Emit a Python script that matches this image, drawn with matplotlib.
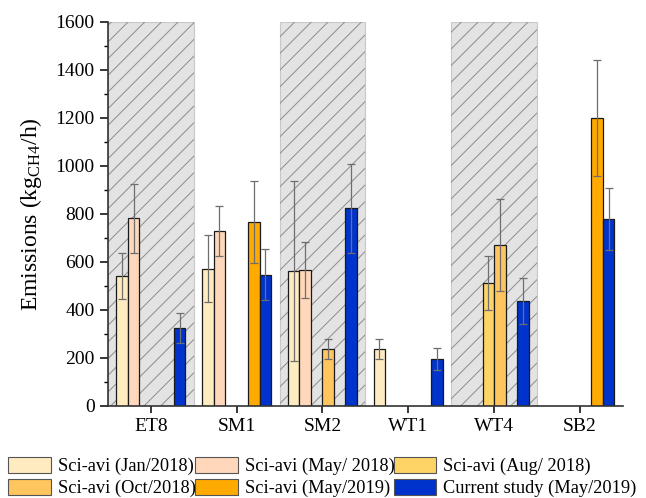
import numpy as np
import matplotlib
matplotlib.use("Agg")
import matplotlib.pyplot as plt
from matplotlib.patches import Patch
from matplotlib.ticker import MultipleLocator

plt.rcParams['font.family'] = ['Liberation Serif', 'DejaVu Serif']
plt.rcParams['mathtext.fontset'] = 'custom'
plt.rcParams['mathtext.rm'] = 'Liberation Serif'
plt.rcParams['mathtext.it'] = 'Liberation Serif:italic'
plt.rcParams['hatch.linewidth'] = 0.7

sites = ["ET8", "SM1", "SM2", "WT1", "WT4", "SB2"]
shaded_sites = ["ET8", "SM2", "WT4"]

nan = np.nan
labels = ["Sci-avi (Jan/2018)", "Sci-avi (May/ 2018)", "Sci-avi (Aug/ 2018)",
          "Sci-avi (Oct/2018)", "Sci-avi (May/2019)", "Current study (May/2019)"]
colors = ["#FFEBC0", "#FFD8BC", "#FFD466", "#FFC55E", "#FFAA00", "#0033CC"]

jan18 = [541, 572, 562, 237, nan, nan]
jan18_err = [97, 140, 375, 40, nan, nan]
may18 = [781, 729, 566, nan, nan, nan]
may18_err = [144, 104, 115, nan, nan, nan]
aug18 = [nan, nan, nan, nan, 511, nan]
aug18_err = [nan, nan, nan, nan, 113, nan]
oct18 = [nan, nan, 237, nan, 669, nan]
oct18_err = [nan, nan, 40, nan, 192, nan]
may19 = [nan, 766, nan, nan, nan, 1199]
may19_err = [nan, 171, nan, nan, nan, 243]
current = [323, 547, 823, 194, 436, 778]
current_err = [63, 106, 186, 46, 96, 129]

series = [(jan18, jan18_err), (may18, may18_err), (aug18, aug18_err),
          (oct18, oct18_err), (may19, may19_err), (current, current_err)]

fig = plt.figure(figsize=(6.46, 4.98), dpi=100)
ax = fig.add_axes([0.167, 0.185, 0.797, 0.771])

x = np.arange(1, len(sites) + 1)

# shaded site backgrounds
for s in shaded_sites:
    i = sites.index(s) + 1
    ax.axvspan(i - 0.5, i + 0.5, facecolor="#E3E3E3", edgecolor="#C8C8C8",
               linewidth=0.8, zorder=0)
    ax.axvspan(i - 0.5, i + 0.5, facecolor="none", edgecolor="#8C8C8C",
               hatch="//", linewidth=0, zorder=0.5)

width = 0.134
for k, (vals, errs) in enumerate(series):
    vals = np.array(vals, dtype=float)
    errs = np.array(errs, dtype=float)
    m = ~np.isnan(vals)
    pos = x[m] + (k - 2.5) * width
    ax.bar(pos, vals[m], width=width, color=colors[k], edgecolor="#1a1a1a",
           linewidth=0.9, zorder=2)
    ax.errorbar(pos, vals[m], yerr=errs[m], fmt="none", ecolor="#6E6E6E",
                elinewidth=0.9, capsize=3, capthick=0.9, zorder=3)

ax.set_xlim(0.5, 6.5)
ax.set_ylim(0, 1600)
ax.set_xticks(x)
ax.set_xticklabels(sites, fontsize=14)
ax.yaxis.set_major_locator(MultipleLocator(200))
ax.yaxis.set_minor_locator(MultipleLocator(100))
ax.tick_params(axis="y", which="major", labelsize=14, length=6, width=1.1, direction="out")
ax.tick_params(axis="y", which="minor", length=3, width=1.0, direction="out")
ax.tick_params(axis="x", which="major", length=5, width=1.1, direction="out")
ax.set_ylabel("Emissions (kg$_{\\mathrm{CH4}}$/h)", fontsize=17, labelpad=8)

for side in ["top", "right"]:
    ax.spines[side].set_visible(False)
for side in ["left", "bottom"]:
    ax.spines[side].set_linewidth(1.2)
    ax.spines[side].set_color("#333333")

handles = [Patch(facecolor=c, edgecolor="#555555", linewidth=0.8) for c in colors]
order = [0, 3, 1, 4, 2, 5]
fig.legend([handles[i] for i in order], [labels[i] for i in order],
           loc="upper left", bbox_to_anchor=(0.013, 0.082), ncol=3,
           fontsize=13.2, frameon=False, handlelength=2.3, handleheight=0.93,
           handletextpad=0.38, columnspacing=0.0, labelspacing=0.2,
           borderpad=0, borderaxespad=0)

fig.savefig("out.png", dpi=100)
